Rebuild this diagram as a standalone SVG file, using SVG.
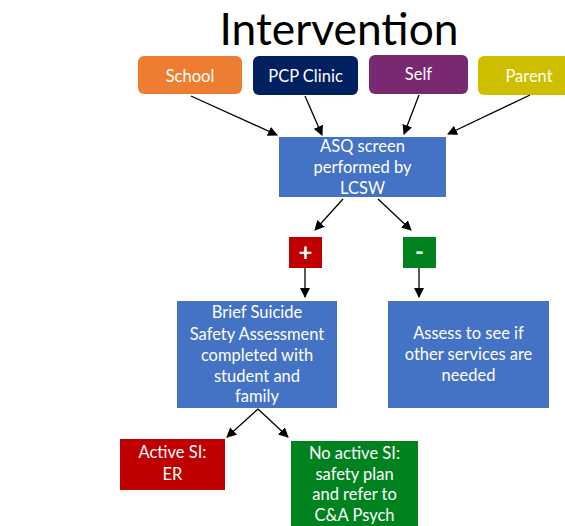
<svg xmlns="http://www.w3.org/2000/svg" width="565" height="526" viewBox="0 0 565 526">
  <style>
    .lbl { font-family: Lato, "Liberation Sans", Arial, sans-serif; fill: #ffffff; text-anchor: middle; }
    .top { font-size: 16.5px; }
    .body { font-size: 16.5px; }
    .sign { font-size: 24px; font-weight: bold; }
    .title { font-family: Lato, "Liberation Sans", Arial, sans-serif; font-size: 44px; fill: #000000; text-anchor: middle; }
    .conn { stroke: #000000; stroke-width: 1.3; fill: none; marker-end: url(#arrow); }
  </style>
  <defs>
    <marker id="arrow" viewBox="0 0 10 10" refX="9" refY="5" markerWidth="10" markerHeight="10" markerUnits="userSpaceOnUse" orient="auto">
      <path d="M0,0 L10,5 L0,10 z" fill="#000000"/>
    </marker>
  </defs>
  <rect width="565" height="526" fill="#ffffff"/>

  <text class="title" x="339" y="45" textLength="239" lengthAdjust="spacingAndGlyphs">Intervention</text>

  <g id="school">
    <rect x="138" y="56" width="104" height="38" rx="6" fill="#ED7D31"/>
    <text class="lbl top" x="190" y="82">School</text>
  </g>
  <g id="pcp-clinic">
    <rect x="253" y="56" width="105" height="39" rx="6" fill="#002060"/>
    <text class="lbl top" x="305.5" y="82">PCP Clinic</text>
  </g>
  <g id="self">
    <rect x="369" y="55" width="99" height="39" rx="6" fill="#7B2873"/>
    <text class="lbl top" x="418.5" y="80">Self</text>
  </g>
  <g id="parent">
    <rect x="478" y="56" width="102" height="39" rx="6" fill="#CDBE00"/>
    <text class="lbl top" x="529" y="82">Parent</text>
  </g>

  <g id="asq-screen">
    <rect x="279" y="137" width="167" height="60" fill="#4472C4"/>
    <text class="lbl body" x="362.5" y="152">ASQ screen</text>
    <text class="lbl body" x="362.5" y="173">performed by</text>
    <text class="lbl body" x="362.5" y="194">LCSW</text>
  </g>

  <g id="positive">
    <rect x="289" y="237" width="33" height="31" fill="#C00000"/>
    <text class="lbl sign" x="305.5" y="261">+</text>
  </g>
  <g id="negative">
    <rect x="403" y="237" width="33" height="31" fill="#00821E"/>
    <text class="lbl sign" x="419.5" y="260">-</text>
  </g>

  <g id="safety-assessment">
    <rect x="177" y="301" width="160" height="107" fill="#4472C4"/>
    <text class="lbl body" x="257" y="318">Brief Suicide</text>
    <text class="lbl body" x="257" y="340">Safety Assessment</text>
    <text class="lbl body" x="257" y="361">completed with</text>
    <text class="lbl body" x="257" y="382">student and</text>
    <text class="lbl body" x="257" y="402">family</text>
  </g>
  <g id="other-services">
    <rect x="388" y="301" width="161" height="107" fill="#4472C4"/>
    <text class="lbl body" x="468.5" y="339">Assess to see if</text>
    <text class="lbl body" x="468.5" y="360">other services are</text>
    <text class="lbl body" x="468.5" y="381">needed</text>
  </g>

  <g id="active-si">
    <rect x="120" y="439" width="105" height="51" fill="#C00000"/>
    <text class="lbl body" x="172.5" y="458">Active SI:</text>
    <text class="lbl body" x="172.5" y="480">ER</text>
  </g>
  <g id="no-active-si">
    <rect x="291" y="441" width="127" height="90" fill="#00821E"/>
    <text class="lbl body" x="354.5" y="459">No active SI:</text>
    <text class="lbl body" x="354.5" y="480">safety plan</text>
    <text class="lbl body" x="354.5" y="500">and refer to</text>
    <text class="lbl body" x="354.5" y="521">C&amp;A Psych</text>
  </g>

  <g id="connectors">
    <line class="conn" x1="191" y1="96" x2="277" y2="135"/>
    <line class="conn" x1="305" y1="96" x2="322" y2="135"/>
    <line class="conn" x1="419" y1="95" x2="404" y2="134"/>
    <line class="conn" x1="530" y1="95" x2="448" y2="134"/>
    <line class="conn" x1="343" y1="199" x2="315" y2="230"/>
    <line class="conn" x1="378" y1="199" x2="411" y2="230"/>
    <line class="conn" x1="305" y1="268" x2="305" y2="297"/>
    <line class="conn" x1="419" y1="268" x2="419" y2="297"/>
    <line class="conn" x1="258" y1="409" x2="227" y2="437"/>
    <line class="conn" x1="258" y1="409" x2="288" y2="437"/>
  </g>
</svg>
